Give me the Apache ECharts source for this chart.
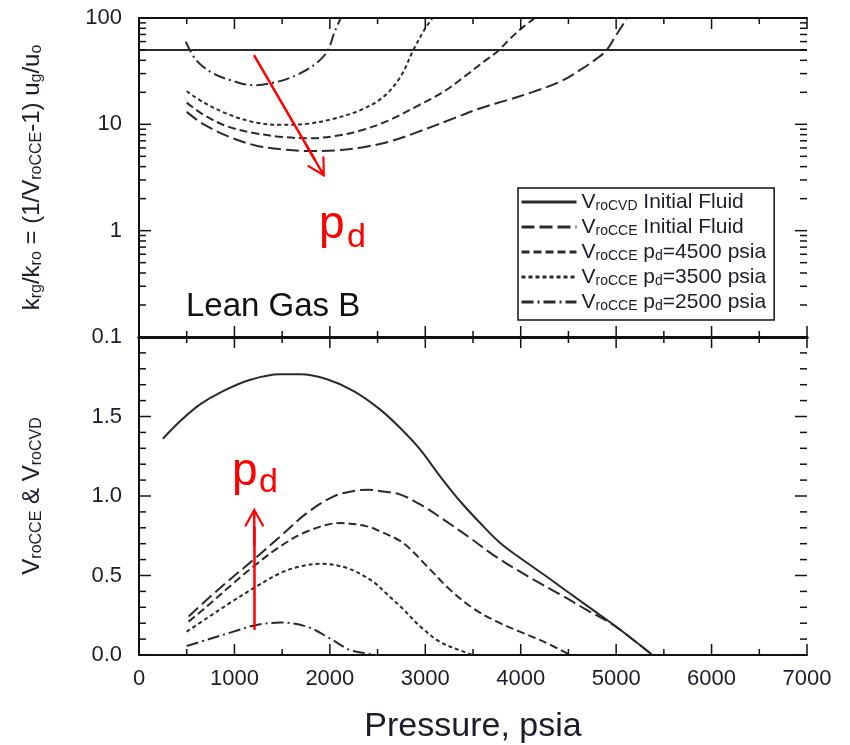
<!DOCTYPE html>
<html>
<head>
<meta charset="utf-8">
<script src="https://cdn.jsdelivr.net/npm/echarts@6/dist/echarts.min.js"></script>
<style>
  html, body { margin: 0; padding: 0; background: #fff; }
  #chart { width: 850px; height: 745px; }
</style>
</head>
<body>
<div id="chart"></div>
<script>
// ---- data (pressure in psia) ----
// top panel: krg/kro
const topCvdP = [0, 7000]
const topCvdK = [50, 50]
const topCceP = [500, 670, 950, 1230, 1510, 1790, 2070, 2350, 2630, 2910, 3290, 3570, 3850, 4130, 4410, 4620, 4800, 4900, 5000, 5110]
const topCceK = [13.1, 10.1, 7.6, 6.3, 5.8, 5.6, 5.7, 6.1, 6.9, 8.4, 11.3, 14.1, 16.8, 20.2, 25.1, 32.3, 41.7, 50, 69, 98]
const top4500P = [500, 670, 920, 1200, 1510, 1790, 2070, 2350, 2630, 2930, 3190, 3430, 3610, 3750, 3890, 4030, 4140]
const top4500K = [16, 12.4, 9.6, 8.3, 7.6, 7.4, 7.8, 8.9, 11, 15.1, 20.2, 29, 38.7, 48, 64, 83, 98]
const top3500P = [500, 670, 920, 1200, 1480, 1760, 2040, 2320, 2560, 2740, 2875, 3000, 3070]
const top3500K = [20.5, 16.2, 12.6, 10.5, 9.9, 10.1, 11.3, 13.6, 18.1, 28, 50, 80, 98]
const top2500P = [490, 600, 780, 990, 1200, 1440, 1650, 1830, 1970, 2050, 2110]
const top2500K = [60, 40, 30, 25.5, 23.3, 25, 29, 36, 48, 74, 98]

// bottom panel: VroCCE & VroCVD
const botCvdP = [250, 430, 640, 880, 1160, 1480, 1690, 1970, 2250, 2525, 2735, 2945, 3155, 3365, 3575, 3785, 3995, 4270, 4520, 4800, 5040, 5380]
const botCvdV = [1.36, 1.47, 1.576, 1.66, 1.73, 1.765, 1.765, 1.734, 1.66, 1.545, 1.429, 1.293, 1.124, 0.967, 0.83, 0.704, 0.61, 0.494, 0.385, 0.265, 0.16, 0]
const botCceP = [520, 710, 950, 1200, 1480, 1760, 2040, 2280, 2400, 2530, 2740, 2980, 3220, 3470, 3710, 3960, 4200, 4450, 4690, 4970, 5380]
const botCceV = [0.242, 0.347, 0.473, 0.599, 0.746, 0.893, 0.998, 1.035, 1.04, 1.03, 1.009, 0.935, 0.84, 0.736, 0.63, 0.536, 0.452, 0.368, 0.284, 0.189, 0]
const bot4500P = [520, 710, 950, 1200, 1480, 1760, 2110, 2390, 2530, 2770, 3020, 3260, 3500, 3750, 3990, 4240, 4520]
const bot4500V = [0.21, 0.305, 0.431, 0.557, 0.683, 0.777, 0.83, 0.809, 0.777, 0.704, 0.557, 0.41, 0.294, 0.21, 0.147, 0.084, 0]
const bot3500P = [500, 710, 950, 1200, 1480, 1690, 1900, 2180, 2450, 2630, 2740, 2950, 3150, 3400, 3500]
const bot3500V = [0.147, 0.231, 0.326, 0.42, 0.515, 0.557, 0.574, 0.547, 0.462, 0.365, 0.305, 0.178, 0.084, 0.021, 0]
const bot2500P = [500, 710, 990, 1230, 1480, 1760, 2000, 2210, 2420, 2500]
const bot2500V = [0.057, 0.095, 0.147, 0.189, 0.204, 0.178, 0.105, 0.032, 0.006, 0]

const seriesNames = ['VroCVD Initial Fluid', 'VroCCE Initial Fluid', 'VroCCE pd=4500 psia', 'VroCCE pd=3500 psia', 'VroCCE pd=2500 psia']

// tick positions (drawn inside the frame on all four sides)
const xMajorTicks = [0, 1000, 2000, 3000, 4000, 5000, 6000, 7000]
const xMinorTicks = [500, 1500, 2500, 3500, 4500, 5500, 6500]
const logMajorTicks = [0.1, 1, 10, 100]
const logMinorTicks = [0.2, 0.3, 0.4, 0.5, 0.6, 0.7, 0.8, 0.9, 2, 3, 4, 5, 6, 7, 8, 9, 20, 30, 40, 50, 60, 70, 80, 90]
const linMajorTicks = [0, 0.5, 1, 1.5, 2]
const linMinorTicks = [0.1, 0.2, 0.3, 0.4, 0.6, 0.7, 0.8, 0.9, 1.1, 1.2, 1.3, 1.4, 1.6, 1.7, 1.8, 1.9]

// red p_d arrows (data coords: tail, shaft end)
const topArrow = [[1205, 44.8], [1848, 4.55]]
const botArrow = [[1208, 0.158], [1208, 0.807]]

const FONT = '"Liberation Sans", Arial, Helvetica, sans-serif'
const INK = '#1c1c2c'
const FRAME = '#111'
const CURVE = '#2a2a2a'
const RED = '#ff0000'
const arrowHead = 'path://M0,0 L10,18 L8.2,19.2 L1.2,6.5 L1.2,38 L-1.2,38 L-1.2,6.5 L-8.2,19.2 L-10,18 Z'

const pairs = (xs, ys) => xs.map((x, i) => [x, ys[i]])

function xAx(gridIndex, position, lineWidth, extra) {
  return Object.assign({
    type: 'value', gridIndex, position, min: 0, max: 7000, interval: 1000,
    axisLine: { show: true, onZero: false, lineStyle: { color: FRAME, width: lineWidth } },
    axisTick: { show: false }, minorTick: { show: false },
    axisLabel: { show: false },
    splitLine: { show: false }, minorSplitLine: { show: false }
  }, extra || {})
}

function logAx(position, extra) {
  return Object.assign({
    type: 'log', logBase: 10, gridIndex: 0, position, min: 0.1, max: 100,
    axisLine: { show: true, lineStyle: { color: FRAME, width: 2 } },
    axisTick: { show: false }, minorTick: { show: false },
    axisLabel: { show: false },
    splitLine: { show: false }, minorSplitLine: { show: false }
  }, extra || {})
}

function linAx(position, extra) {
  return Object.assign({
    type: 'value', gridIndex: 1, position, min: 0, max: 2, interval: 0.5,
    axisLine: { show: true, lineStyle: { color: FRAME, width: 2 } },
    axisTick: { show: false }, minorTick: { show: false },
    axisLabel: { show: false },
    splitLine: { show: false }, minorSplitLine: { show: false }
  }, extra || {})
}

const tickLabel = { show: true, fontSize: 22, color: INK, fontFamily: FONT, margin: 17 }
const subRich = {
  s: { fontSize: 16, lineHeight: 16, verticalAlign: 'bottom', fontFamily: FONT, color: INK }
}

function curve(name, xs, ys, bottom, dash, extra) {
  return Object.assign({
    name, type: 'line',
    xAxisIndex: bottom ? 2 : 0, yAxisIndex: bottom ? 2 : 0,
    data: pairs(xs, ys),
    symbol: 'none', showSymbol: false, smooth: 0.35,
    lineStyle: { color: CURVE, width: 2, type: dash },
    itemStyle: { color: CURVE },
    silent: true, animation: false
  }, extra || {})
}

function arrowLine(pts) {
  return {
    silent: true, animation: false,
    symbol: ['none', arrowHead],
    lineStyle: { color: RED, width: 2.5, type: 'solid' },
    label: { show: false },
    data: [[{ coord: pts[0] }, { coord: pts[1], symbolSize: [20, 38] }]]
  }
}

// inside ticks, one element per tick and side, placed through the panel's own axes
// row: [x, y, len, side]  side 0 top, 1 bottom, 2 left, 3 right
function tickSeries(bottom, yMajor, yMinor, yMid) {
  const rows = []
  for (const side of [0, 1]) {
    xMajorTicks.forEach(v => rows.push([v, yMid, 11, side]))
    xMinorTicks.forEach(v => rows.push([v, yMid, 6, side]))
  }
  for (const side of [2, 3]) {
    yMajor.forEach(v => rows.push([3500, v, 12, side]))
    yMinor.forEach(v => rows.push([3500, v, 7, side]))
  }
  return {
    type: 'custom', silent: true, animation: false, zlevel: 1, z: 10, clip: false,
    xAxisIndex: bottom ? 2 : 0, yAxisIndex: bottom ? 2 : 0,
    data: rows,
    renderItem(params, api) {
      const cs = params.coordSys
      const len = api.value(2)
      const side = api.value(3)
      const pt = api.coord([api.value(0), api.value(1)])
      let shape
      if (side === 0) shape = { x: pt[0] - 0.75, y: cs.y, width: 1.5, height: len }
      else if (side === 1) shape = { x: pt[0] - 0.75, y: cs.y + cs.height - len, width: 1.5, height: len }
      else if (side === 2) shape = { x: cs.x, y: pt[1] - 0.75, width: len, height: 1.5 }
      else shape = { x: cs.x + cs.width - len, y: pt[1] - 0.75, width: len, height: 1.5 }
      return { type: 'rect', shape, style: { fill: FRAME } }
    }
  }
}

const dashes = ['solid', [13, 5], [8, 4], [4, 3], [12, 4, 2, 4]]

const chart = echarts.init(document.getElementById('chart'))
chart.setOption({
  backgroundColor: '#fff',
  animation: false,
  grid: [
    { left: 139, top: 18, width: 668, height: 319 },
    { left: 139, top: 337, width: 668, height: 318 }
  ],
  xAxis: [
    xAx(0, 'bottom', 3),
    xAx(0, 'top', 2),
    xAx(1, 'bottom', 2, {
      axisLabel: { show: true, fontSize: 22, color: INK, fontFamily: FONT, margin: 13, formatter: v => String(v) },
      name: 'Pressure, psia', nameLocation: 'middle', nameGap: 55,
      nameTextStyle: { fontSize: 34, color: INK, fontFamily: FONT }
    }),
    xAx(1, 'top', 3)
  ],
  yAxis: [
    logAx('left', {
      axisLabel: Object.assign({}, tickLabel, { formatter: v => String(+(+v).toPrecision(3)) }),
      name: 'k{s|rg}/k{s|ro} = (1/V{s|roCCE}-1) u{s|g}/u{s|o}',
      nameLocation: 'middle', nameGap: 94,
      nameTextStyle: { fontSize: 24, lineHeight: 26, color: INK, fontFamily: FONT, rich: subRich }
    }),
    logAx('right'),
    linAx('left', {
      axisLabel: Object.assign({}, tickLabel, { formatter: v => v.toFixed(1), showMaxLabel: false }),
      name: 'V{s|roCCE} & V{s|roCVD}',
      nameLocation: 'middle', nameGap: 94,
      nameTextStyle: { fontSize: 24, lineHeight: 26, color: INK, fontFamily: FONT, rich: subRich }
    }),
    linAx('right')
  ],
  legend: {
    data: seriesNames,
    orient: 'vertical', left: 518, top: 188, align: 'left',
    itemWidth: 55, itemHeight: 14, itemGap: 3,
    padding: [3, 8, 7, 2],
    borderColor: FRAME, borderWidth: 1.5, backgroundColor: '#fff',
    selectedMode: false,
    lineStyle: { width: 3 },
    itemStyle: { opacity: 0, borderWidth: 0 },
    textStyle: {
      fontSize: 21, lineHeight: 22, color: INK, fontFamily: FONT,
      rich: { s: { fontSize: 14, lineHeight: 14, verticalAlign: 'bottom', color: INK, fontFamily: FONT } }
    },
    formatter: name => name.replace(/^V(ro\w+) /, 'V{s|$1} ').replace('pd=', 'p{s|d}=')
  },
  graphic: [
    { type: 'text', x: 186, y: 307, silent: true,
      style: { text: 'Lean Gas B', fontSize: 33, fontFamily: FONT, fill: '#111', align: 'left', verticalAlign: 'middle' } },
    { type: 'text', x: 319, y: 225, silent: true,
      style: { text: 'p', fontSize: 46, fontFamily: FONT, fill: RED, align: 'left', verticalAlign: 'middle' } },
    { type: 'text', x: 347, y: 238, silent: true,
      style: { text: 'd', fontSize: 34, fontFamily: FONT, fill: RED, align: 'left', verticalAlign: 'middle' } },
    { type: 'text', x: 232, y: 472, silent: true,
      style: { text: 'p', fontSize: 46, fontFamily: FONT, fill: RED, align: 'left', verticalAlign: 'middle' } },
    { type: 'text', x: 259, y: 483, silent: true,
      style: { text: 'd', fontSize: 34, fontFamily: FONT, fill: RED, align: 'left', verticalAlign: 'middle' } }
  ],
  series: [
    curve(seriesNames[0], topCvdP, topCvdK, false, dashes[0], { smooth: false, markLine: arrowLine(topArrow) }),
    curve(seriesNames[1], topCceP, topCceK, false, dashes[1]),
    curve(seriesNames[2], top4500P, top4500K, false, dashes[2]),
    curve(seriesNames[3], top3500P, top3500K, false, dashes[3]),
    curve(seriesNames[4], top2500P, top2500K, false, dashes[4]),
    curve(seriesNames[0], botCvdP, botCvdV, true, dashes[0], { markLine: arrowLine(botArrow) }),
    curve(seriesNames[1], botCceP, botCceV, true, dashes[1]),
    curve(seriesNames[2], bot4500P, bot4500V, true, dashes[2]),
    curve(seriesNames[3], bot3500P, bot3500V, true, dashes[3]),
    curve(seriesNames[4], bot2500P, bot2500V, true, dashes[4]),
    tickSeries(false, logMajorTicks, logMinorTicks, 1),
    tickSeries(true, linMajorTicks, linMinorTicks, 1)
  ]
})
</script>
</body>
</html>
